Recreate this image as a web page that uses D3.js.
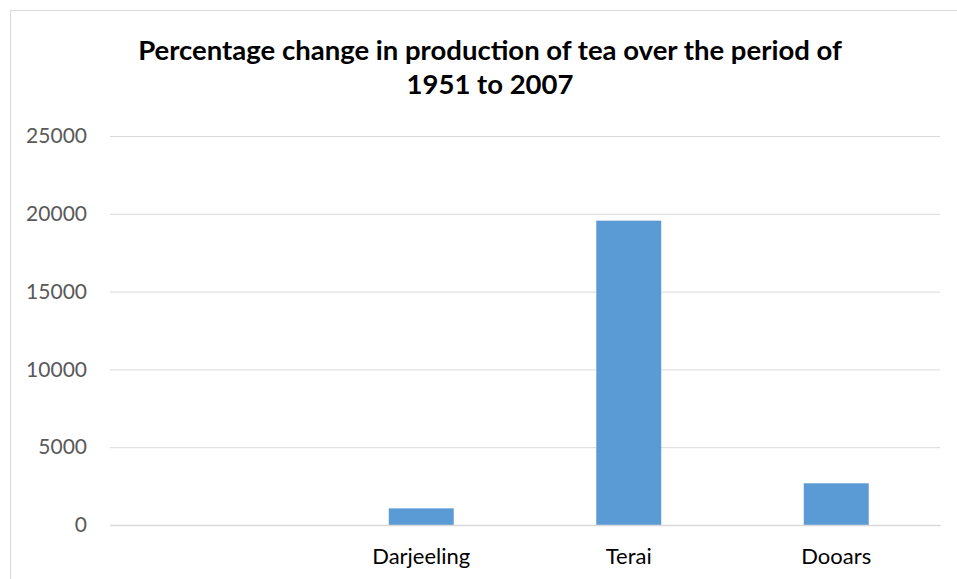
<!DOCTYPE html>
<html><head><meta charset="utf-8">
<script src="https://cdn.jsdelivr.net/npm/d3@7"></script>
<style>body{margin:0;background:#fff}svg{display:block}</style>
</head><body>
<svg id="c" width="957" height="579"></svg>
<script>
const categories = ["", "Darjeeling", "Terai", "Dooars"];
const values = [null, 1070, 19560, 2680];
const yTicks = [0, 5000, 10000, 15000, 20000, 25000];
const titleLines = ["Percentage change in production of tea over the period of", "1951 to 2007"];

const svg = d3.select("#c");
const W = 957, H = 579;
const m = {left:110, right:17, top:136, bottom:54};
const font = "Lato, Carlito, Calibri, sans-serif";

svg.append("rect").attr("x",10.5).attr("y",10.5).attr("width",W+20).attr("height",H+20)
  .attr("fill","#fff").attr("stroke","#D9D9D9").attr("stroke-width",1);

const x = d3.scaleBand().domain(categories.map((c,i)=>i)).range([m.left, W-m.right]).paddingInner(0.687).paddingOuter(0.3435);
const y = d3.scaleLinear().domain([0,25000]).range([H-m.bottom, m.top]);

const ga = svg.append("g").attr("transform",`translate(${m.left},0)`)
  .call(d3.axisLeft(y).tickValues(yTicks).tickSize(-(W-m.right-m.left)).tickPadding(23).tickFormat(d3.format("d")));
ga.select(".domain").remove();
ga.selectAll(".tick line").attr("stroke","#D9D9D9").attr("stroke-width",1);
ga.selectAll(".tick text").attr("fill","#595959").style("font-family",font).style("font-size","21px");

svg.append("g").selectAll("rect").data(values.map((v,i)=>({v,i})).filter(d=>d.v!=null)).join("rect")
  .attr("x",d=>x(d.i)).attr("width",x.bandwidth())
  .attr("y",d=>y(d.v)).attr("height",d=>y(0)-y(d.v))
  .attr("fill","#5B9BD5");

const gx = svg.append("g").attr("transform",`translate(0,${H-m.bottom})`)
  .call(d3.axisBottom(x).tickSize(0).tickPadding(23).tickFormat(i=>categories[i]));
gx.select(".domain").attr("stroke","#D9D9D9").attr("stroke-width",1.5);
gx.selectAll(".tick text").attr("fill","#000").style("font-family",font).style("font-size","22px");

svg.append("g").selectAll("text").data(titleLines).join("text")
  .attr("x",490).attr("y",(d,i)=>60+i*34).attr("text-anchor","middle")
  .style("font-family",font).style("font-size","27.5px").style("font-weight","bold").attr("fill","#000")
  .text(d=>d);
</script>
</body></html>
